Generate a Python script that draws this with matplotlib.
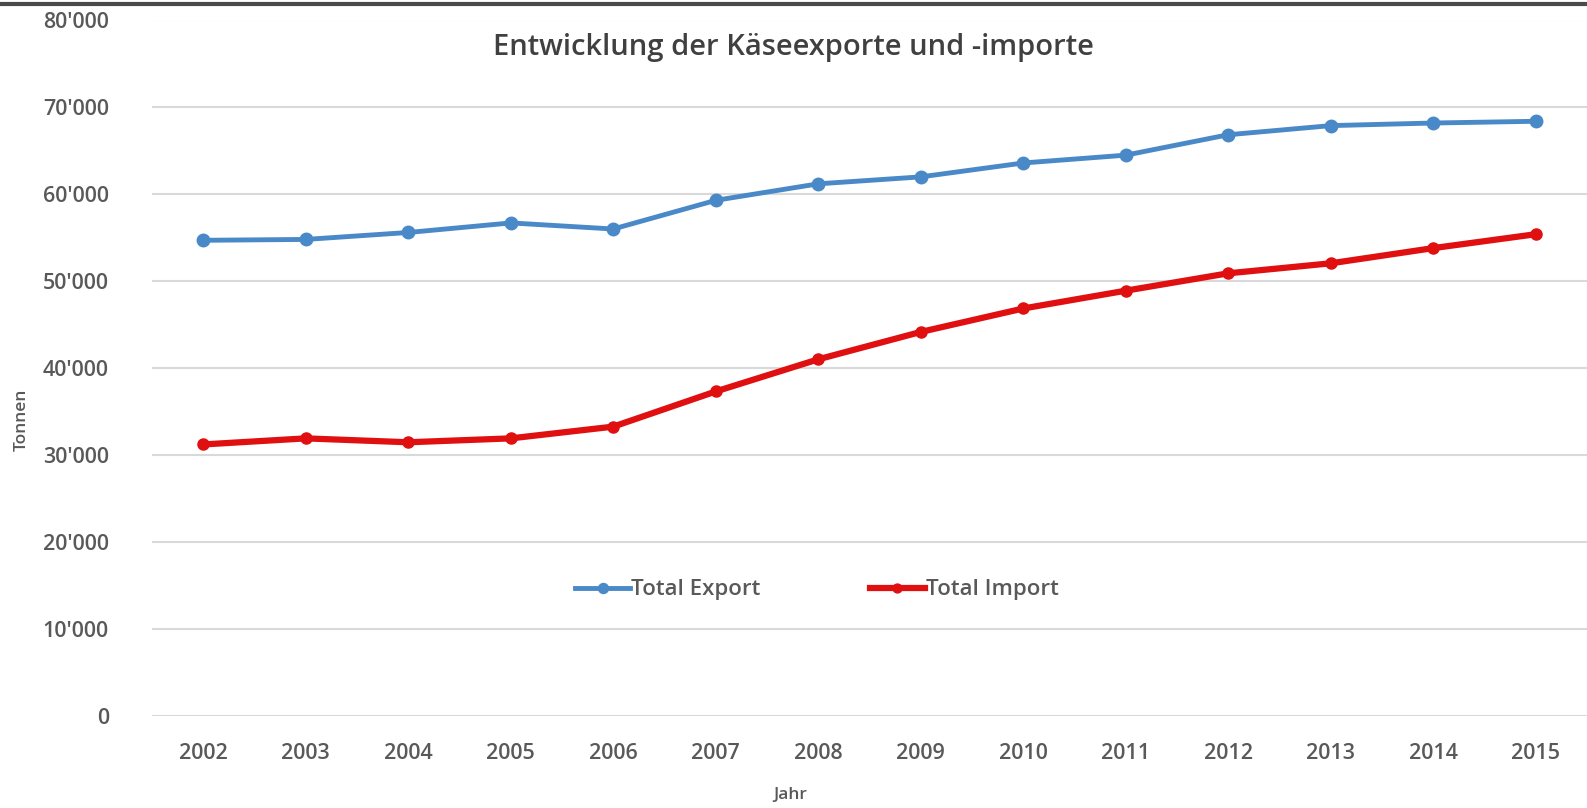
import matplotlib.pyplot as plt
from matplotlib.lines import Line2D
from matplotlib.ticker import FuncFormatter

# Käseexporte und -importe der Schweiz in Tonnen
years = ['2002', '2003', '2004', '2005', '2006', '2007', '2008',
         '2009', '2010', '2011', '2012', '2013', '2014', '2015']
export_t = [54700, 54800, 55600, 56700, 56000, 59300, 61200,
            62000, 63600, 64500, 66850, 67900, 68200, 68400]
import_t = [31200, 31900, 31450, 31900, 33250, 37300, 41000,
            44150, 46850, 48900, 50900, 52050, 53800, 55400]

plt.rcParams['font.family'] = ['Open Sans', 'DejaVu Sans']

fig = plt.figure(figsize=(15.87, 8.08), dpi=100)
ax = fig.add_axes([152 / 1587, 1 - 715.5 / 808, 1 - 152 / 1587, 695 / 808])

x = list(range(len(years)))
ax.plot(x, export_t, color='#4a89c8', lw=3.5, marker='o', ms=9,
        label='Total Export')
ax.plot(x, import_t, color='#e01010', lw=4.5, marker='o', ms=8,
        label='Total Import')

ax.set_xlim(-0.5, len(years) - 0.5)
ax.set_ylim(0, 80000)
ax.set_yticks(range(0, 80001, 10000))
ax.yaxis.set_major_formatter(FuncFormatter(lambda v, p: f"{int(v):,}".replace(',', "'")))
ax.set_xticks(x)
ax.set_xticklabels(years)

ax.grid(axis='y', color='#d9d9d9', lw=1.5)
ax.set_axisbelow(True)
for s in ax.spines.values():
    s.set_visible(False)
ax.tick_params(length=0, labelsize=15.5, colors='#595959')
for lab in ax.get_xticklabels() + ax.get_yticklabels():
    lab.set_fontweight('semibold')
ax.tick_params(axis='y', pad=31)
ax.tick_params(axis='x', pad=20)

# Achsentitel
fig.text(790 / 1587, 1 - 795 / 808, 'Jahr', ha='center', va='center',
         fontsize=12.5, color='#595959', fontweight='semibold')
fig.text(22 / 1587, 1 - 420 / 808, 'Tonnen', ha='center', va='center', rotation=90,
         fontsize=12.5, color='#595959', fontweight='semibold')

fig.text(793 / 1587, 1 - 47 / 808, 'Entwicklung der Käseexporte und -importe',
         ha='center', va='center', fontsize=21, color='#404040', fontweight='semibold')

ax.legend(loc='center', bbox_to_anchor=((817 - 152) / 1435, (715.5 - 590) / 695),
          ncol=2, frameon=False, handlelength=2.5, handletextpad=0.05,
          columnspacing=4.9, labelcolor='#595959', markerscale=0.8,
          prop={'weight': 'semibold', 'size': 16})

# dunkler Rand oben
fig.add_artist(Line2D([0, 1], [1 - 4 / 808, 1 - 4 / 808], transform=fig.transFigure,
                      color='#4a4a4a', lw=3))

fig.savefig('out.png', dpi=100)
